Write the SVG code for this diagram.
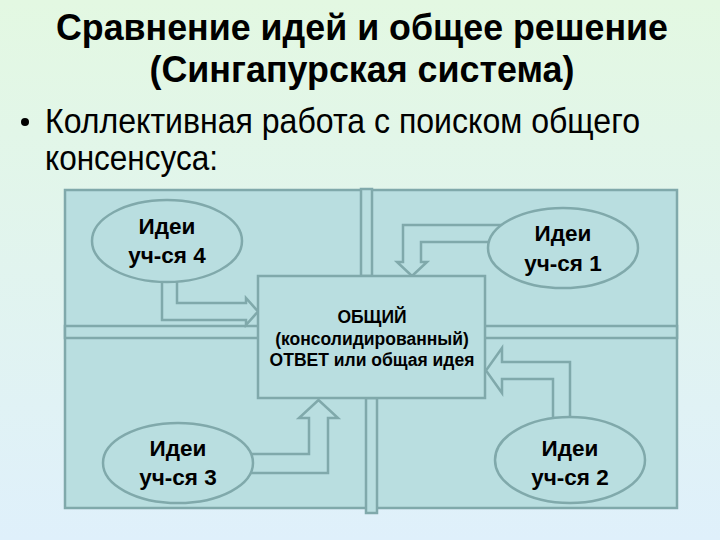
<svg xmlns="http://www.w3.org/2000/svg" width="720" height="540" viewBox="0 0 720 540">
  <defs>
    <linearGradient id="bg" x1="0" y1="0" x2="0" y2="1">
      <stop offset="0" stop-color="#e3f8e2"/>
      <stop offset="1" stop-color="#dff0fb"/>
    </linearGradient>
    <style>
      .panel { fill: #b9dee0; stroke: #80a9ab; stroke-width: 2.5; }
      .arrow { fill: #b9dee0; stroke: #80a9ab; stroke-width: 2.5; stroke-linejoin: miter; }
      .node { fill: #b9dee0; stroke: #80a9ab; stroke-width: 2.5; }
      .title { font-family: "Liberation Sans", Arial, sans-serif; font-weight: bold; font-size: 37px; fill: #000; text-anchor: middle; }
      .body { font-family: "Liberation Sans", Arial, sans-serif; font-size: 35px; fill: #000; }
      .lbl { font-family: "Liberation Sans", Arial, sans-serif; font-weight: bold; font-size: 22.5px; fill: #000; text-anchor: middle; }
      .center { font-family: "Liberation Sans", Arial, sans-serif; font-weight: bold; font-size: 17.5px; fill: #000; text-anchor: middle; }
    </style>
  </defs>

  <rect x="0" y="0" width="720" height="540" fill="url(#bg)"/>

  <g id="title">
    <text class="title" x="362" y="40" textLength="612" lengthAdjust="spacingAndGlyphs">Сравнение идей и общее решение</text>
    <text class="title" x="362" y="82" textLength="425" lengthAdjust="spacingAndGlyphs">(Сингапурская система)</text>
  </g>

  <g id="bullet">
    <circle cx="25" cy="122" r="4" fill="#000"/>
    <text class="body" x="45" y="133" textLength="595" lengthAdjust="spacingAndGlyphs">Коллективная работа с поиском общего</text>
    <text class="body" x="45" y="170" textLength="173" lengthAdjust="spacingAndGlyphs">консенсуса:</text>
  </g>

  <g id="frame">
    <rect class="panel" x="65" y="190" width="612" height="318"/>
    <rect class="panel" x="65" y="326" width="612" height="12"/>
    <rect class="panel" x="361" y="189" width="11" height="87"/>
    <rect class="panel" x="366" y="398" width="11" height="115"/>
  </g>

  <g id="connectors">
    <polygon class="arrow" points="162,272 162,320 246,320 246,325 258,311.5 246,298 246,303 177,303 177,272"/>
    <polygon class="arrow" points="505,225 403,225 403,262 397,262 412,276 427,262 421,262 421,242 505,242"/>
    <polygon class="arrow" points="570,428 570,362 502,362 502,348 486,370.5 502,393 502,379 553,379 553,428"/>
    <polygon class="arrow" points="240,454 309,454 309,418 299,418 318.5,400 338,418 328,418 328,473 240,473"/>
  </g>

  <g id="common-answer">
    <rect class="node" x="258" y="276" width="227" height="122"/>
    <text class="center" x="372" y="323">ОБЩИЙ</text>
    <text class="center" x="372" y="345">(консолидированный)</text>
    <text class="center" x="372" y="366">ОТВЕТ или общая идея</text>
  </g>

  <g id="ideas-4">
    <ellipse class="node" cx="167" cy="241" rx="75" ry="41"/>
    <text class="lbl" x="167" y="234">Идеи</text>
    <text class="lbl" x="167" y="263">уч-ся 4</text>
  </g>

  <g id="ideas-1">
    <ellipse class="node" cx="563" cy="248" rx="75" ry="40"/>
    <text class="lbl" x="563" y="241">Идеи</text>
    <text class="lbl" x="563" y="271">уч-ся 1</text>
  </g>

  <g id="ideas-3">
    <ellipse class="node" cx="178" cy="463" rx="75" ry="40"/>
    <text class="lbl" x="178" y="456">Идеи</text>
    <text class="lbl" x="178" y="485">уч-ся 3</text>
  </g>

  <g id="ideas-2">
    <ellipse class="node" cx="570" cy="460" rx="75" ry="43"/>
    <text class="lbl" x="570" y="456">Идеи</text>
    <text class="lbl" x="570" y="485">уч-ся 2</text>
  </g>
</svg>
